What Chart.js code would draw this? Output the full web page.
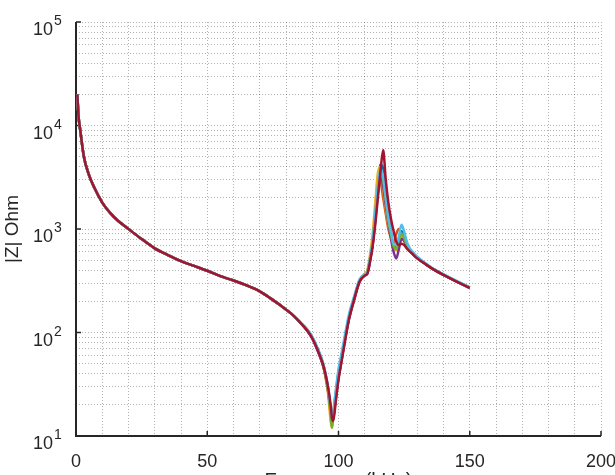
<!DOCTYPE html>
<html>
<head>
<meta charset="utf-8">
<script src="https://cdn.jsdelivr.net/npm/chart.js@4"></script>
<style>
  html, body { margin: 0; padding: 0; background: #fff; }
  #wrap { width: 615px; height: 475px; }
</style>
</head>
<body>
<div id="wrap"><canvas id="impedanceChart" width="615" height="475"></canvas></div>
<script>
// frequency (kHz), shared low band
const freqLow = [0.5, 1, 1.5, 3, 5, 7, 10, 13, 16, 20, 25, 30, 35, 40, 45, 50, 55, 60, 65, 70, 74, 78, 82, 85];
const zLow = [20000, 12000, 9500, 5000, 3300, 2500, 1800, 1430, 1200, 1000, 800, 650, 560, 490, 440, 395, 350, 318, 285, 250, 215, 182, 152, 128];

// resonance band, one array per measurement
const freqRes = [88, 90, 92, 94, 95, 96, 97, 97.5, 98, 99, 100, 101, 102, 104, 106, 108, 110, 111, 112, 113, 114, 115, 116, 117, 118, 119, 120, 121, 122, 123, 124, 125, 126, 127, 128, 130, 133, 136, 140, 145, 150];
const zRed    = [105, 88, 68, 50, 40, 30, 20, 15, 14, 22, 35, 50, 70, 135, 210, 310, 355, 370, 480, 680, 1100, 2000, 3600, 5800, 3000, 1800, 1250, 950, 760, 700, 720, 700, 650, 610, 580, 520, 460, 410, 360, 310, 270];
const zBlue   = [107, 90, 70, 51, 40, 29, 18, 13, 15, 24, 37, 52, 74, 140, 215, 315, 362, 380, 500, 720, 1300, 2400, 4200, 3800, 2200, 1300, 900, 700, 650, 800, 950, 880, 720, 640, 600, 530, 465, 412, 362, 312, 272];
const zOrange = [106, 89, 69, 49, 38, 27, 17, 14, 16, 26, 40, 55, 76, 138, 212, 312, 365, 390, 520, 780, 1500, 2600, 2800, 2000, 1400, 1000, 820, 700, 900, 1000, 880, 760, 680, 620, 590, 525, 462, 410, 360, 311, 271];
const zYellow = [108, 90, 70, 50, 38, 26, 14, 12, 17, 27, 42, 57, 78, 142, 218, 320, 370, 400, 560, 880, 1800, 3500, 4000, 2500, 1600, 1100, 850, 680, 620, 700, 900, 800, 700, 630, 590, 526, 463, 411, 361, 311, 271];
const zPurple = [104, 87, 67, 49, 39, 28, 18, 14, 15, 23, 36, 50, 72, 134, 208, 308, 356, 372, 490, 700, 1200, 2200, 3200, 2600, 1700, 1150, 800, 600, 520, 640, 800, 780, 690, 630, 585, 522, 461, 410, 360, 310, 270];
const zGreen  = [106, 89, 69, 50, 39, 28, 16, 12, 15, 25, 38, 53, 75, 139, 213, 314, 360, 378, 510, 750, 1400, 2500, 3800, 3000, 1900, 1200, 880, 680, 640, 780, 900, 820, 700, 635, 592, 527, 463, 411, 361, 311, 271];
const zCyan   = [108, 91, 71, 52, 41, 30, 19, 15, 17, 28, 44, 60, 82, 150, 225, 325, 368, 385, 520, 760, 1400, 2600, 3800, 3200, 2000, 1300, 950, 720, 700, 850, 1100, 950, 760, 660, 610, 540, 470, 415, 365, 315, 275];

// axis ticks
const xTicks = [0, 50, 100, 150, 200];
const yDecades = [10, 100, 1000, 10000, 100000];
const yGrid = [];
yDecades.forEach((d, i) => {
  for (let m = 1; m <= 9; m++) {
    if (i === yDecades.length - 1 && m > 1) break;
    yGrid.push(d * m);
  }
});

function points(zRes) {
  const f = freqLow.concat(freqRes);
  const z = zLow.concat(zRes);
  return f.map((x, i) => ({ x: x, y: z[i] }));
}

const series = [
  { z: zRed, color: "rgb(162,20,47)" },
  { z: zCyan, color: "rgb(77,190,238)" },
  { z: zGreen, color: "rgb(119,172,48)" },
  { z: zPurple, color: "rgb(126,47,142)" },
  { z: zYellow, color: "rgb(237,177,32)" },
  { z: zOrange, color: "rgb(217,83,25)" },
  { z: zBlue, color: "rgb(0,114,189)" },
];

const axesPlugin = {
  id: "matlabAxes",
  beforeDatasetsDraw(chart) {
    const { ctx, chartArea: a, scales: { x, y } } = chart;
    ctx.save();
    ctx.strokeStyle = "#262626";
    ctx.lineWidth = 2;
    ctx.beginPath();
    ctx.moveTo(a.left, a.top);
    ctx.lineTo(a.left, a.bottom);
    ctx.lineTo(a.right, a.bottom);
    ctx.stroke();
    ctx.lineWidth = 1.5;
    ctx.beginPath();
    xTicks.forEach(v => {
      const px = x.getPixelForValue(v);
      ctx.moveTo(px, a.bottom);
      ctx.lineTo(px, a.bottom - 5);
    });
    yDecades.forEach(v => {
      const py = y.getPixelForValue(v);
      ctx.moveTo(a.left, py);
      ctx.lineTo(a.left + 5, py);
    });
    ctx.stroke();
    ctx.restore();
  },
  afterDraw(chart) {
    const { ctx, chartArea: a, scales: { x, y } } = chart;
    ctx.save();
    ctx.fillStyle = "#262626";
    ctx.textBaseline = "alphabetic";
    ctx.font = "18px 'Liberation Sans', Arial, sans-serif";
    ctx.textAlign = "center";
    xTicks.forEach(v => {
      ctx.fillText(String(v), x.getPixelForValue(v), a.bottom + 31);
    });
    yDecades.forEach(v => {
      const py = y.getPixelForValue(v);
      const exp = String(Math.round(Math.log10(v)));
      ctx.font = "18px 'Liberation Sans', Arial, sans-serif";
      ctx.textAlign = "right";
      ctx.fillText("10", a.left - 23, py + 13);
      ctx.font = "14px 'Liberation Sans', Arial, sans-serif";
      ctx.textAlign = "left";
      ctx.fillText(exp, a.left - 22, py + 3);
    });
    ctx.font = "20px 'Liberation Sans', Arial, sans-serif";
    ctx.textAlign = "center";
    ctx.fillText("Frequency (kHz)", (a.left + a.right) / 2, a.bottom + 51);
    ctx.font = "19px 'Liberation Sans', Arial, sans-serif";
    ctx.translate(18, (a.top + a.bottom) / 2);
    ctx.rotate(-Math.PI / 2);
    ctx.fillText("|Z| Ohm", 0, 0);
    ctx.restore();
  },
};

const ctx = document.getElementById("impedanceChart").getContext("2d");
const impedanceChart = new Chart(ctx, {
  type: "line",
  data: {
    datasets: series.map((s, i) => ({
      label: "Sweep " + (i + 1),
      data: points(s.z),
      borderColor: s.color,
      backgroundColor: s.color,
      borderWidth: 2.5,
      pointRadius: 0,
      cubicInterpolationMode: "monotone",
      fill: false,
    })),
  },
  options: {
    responsive: false,
    animation: false,
    layout: { padding: { left: 76, right: 14, top: 22, bottom: 39 } },
    plugins: {
      legend: { display: false },
      tooltip: { enabled: false },
    },
    scales: {
      x: {
        type: "linear",
        min: 0,
        max: 200,
        ticks: { display: false, stepSize: 10 },
        grid: { color: "rgba(0,0,0,0.3)", lineWidth: 1, drawTicks: false },
        border: { display: false, dash: [1, 2] },
      },
      y: {
        type: "logarithmic",
        min: 10,
        max: 100000,
        afterBuildTicks: (scale) => {
          scale.ticks = yGrid.map(v => ({ value: v }));
        },
        ticks: { display: false, autoSkip: false },
        grid: { color: "rgba(0,0,0,0.3)", lineWidth: 1, drawTicks: false },
        border: { display: false, dash: [1, 2] },
      },
    },
  },
  plugins: [axesPlugin],
});
</script>
</body>
</html>
